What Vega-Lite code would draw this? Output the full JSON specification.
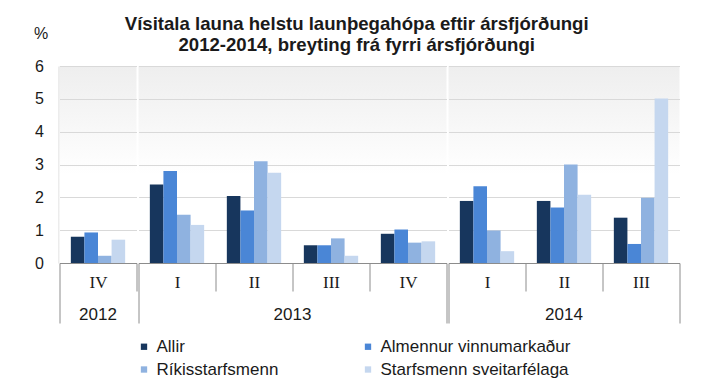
{
  "$schema": "https://vega.github.io/schema/vega-lite/v6.json",
  "background": "white",
  "padding": {"left": 32.5, "top": 15, "right": 30, "bottom": 0},
  "title": {
    "text": ["Vísitala launa helstu launþegahópa eftir ársfjórðungi", "2012-2014, breyting frá fyrri ársfjórðungi"],
    "font": "Liberation Sans",
    "fontSize": 18.6,
    "fontWeight": "bold",
    "color": "#1a1a1a",
    "anchor": "middle",
    "lineHeight": 21,
    "offset": -30
  },
  "data": {
    "values": [
      {"year": "2012", "quarter": "IV", "series": "Allir", "value": 0.80},
      {"year": "2012", "quarter": "IV", "series": "Almennur vinnumarkaður", "value": 0.93},
      {"year": "2012", "quarter": "IV", "series": "Ríkisstarfsmenn", "value": 0.22},
      {"year": "2012", "quarter": "IV", "series": "Starfsmenn sveitarfélaga", "value": 0.71},
      {"year": "2013", "quarter": "I", "series": "Allir", "value": 2.39},
      {"year": "2013", "quarter": "I", "series": "Almennur vinnumarkaður", "value": 2.80},
      {"year": "2013", "quarter": "I", "series": "Ríkisstarfsmenn", "value": 1.47},
      {"year": "2013", "quarter": "I", "series": "Starfsmenn sveitarfélaga", "value": 1.16},
      {"year": "2013", "quarter": "II", "series": "Allir", "value": 2.04},
      {"year": "2013", "quarter": "II", "series": "Almennur vinnumarkaður", "value": 1.60},
      {"year": "2013", "quarter": "II", "series": "Ríkisstarfsmenn", "value": 3.10},
      {"year": "2013", "quarter": "II", "series": "Starfsmenn sveitarfélaga", "value": 2.75},
      {"year": "2013", "quarter": "III", "series": "Allir", "value": 0.54},
      {"year": "2013", "quarter": "III", "series": "Almennur vinnumarkaður", "value": 0.54},
      {"year": "2013", "quarter": "III", "series": "Ríkisstarfsmenn", "value": 0.75},
      {"year": "2013", "quarter": "III", "series": "Starfsmenn sveitarfélaga", "value": 0.22},
      {"year": "2013", "quarter": "IV", "series": "Allir", "value": 0.89},
      {"year": "2013", "quarter": "IV", "series": "Almennur vinnumarkaður", "value": 1.02},
      {"year": "2013", "quarter": "IV", "series": "Ríkisstarfsmenn", "value": 0.62},
      {"year": "2013", "quarter": "IV", "series": "Starfsmenn sveitarfélaga", "value": 0.66},
      {"year": "2014", "quarter": "I", "series": "Allir", "value": 1.89},
      {"year": "2014", "quarter": "I", "series": "Almennur vinnumarkaður", "value": 2.34},
      {"year": "2014", "quarter": "I", "series": "Ríkisstarfsmenn", "value": 0.99},
      {"year": "2014", "quarter": "I", "series": "Starfsmenn sveitarfélaga", "value": 0.36},
      {"year": "2014", "quarter": "II", "series": "Allir", "value": 1.89},
      {"year": "2014", "quarter": "II", "series": "Almennur vinnumarkaður", "value": 1.69},
      {"year": "2014", "quarter": "II", "series": "Ríkisstarfsmenn", "value": 3.00},
      {"year": "2014", "quarter": "II", "series": "Starfsmenn sveitarfélaga", "value": 2.08},
      {"year": "2014", "quarter": "III", "series": "Allir", "value": 1.38},
      {"year": "2014", "quarter": "III", "series": "Almennur vinnumarkaður", "value": 0.58},
      {"year": "2014", "quarter": "III", "series": "Ríkisstarfsmenn", "value": 1.99},
      {"year": "2014", "quarter": "III", "series": "Starfsmenn sveitarfélaga", "value": 5.01}
    ]
  },
  "facet": {
    "column": {
      "field": "year",
      "type": "ordinal",
      "header": {
        "title": null,
        "labelOrient": "bottom",
        "labelFont": "Liberation Sans",
        "labelFontSize": 17,
        "labelColor": "#1a1a1a",
        "labelPadding": -17
      }
    }
  },
  "spacing": 0,
  "resolve": {"scale": {"x": "independent", "xOffset": "independent"}},
  "spec": {
    "width": {"step": 77, "for": "position"},
    "height": 197,
    "mark": {"type": "bar"},
    "encoding": {
      "x": {
        "field": "quarter",
        "type": "ordinal",
        "sort": ["I", "II", "III", "IV"],
        "scale": {"paddingInner": 0, "paddingOuter": 0},
        "axis": {
          "title": null,
          "labelAngle": 0,
          "labelFont": "Liberation Serif",
          "labelFontSize": 17,
          "labelColor": "#1a1a1a",
          "labelPadding": {"condition": {"test": "datum.index == -1 || datum.index == 1", "value": -49}, "value": -17},
          "tickBand": "extent",
          "tickColor": "#8c8c8c",
          "domainColor": "#8c8c8c",
          "tickSize": {"condition": {"test": "datum.index == -1 || datum.index == 1", "value": 60}, "value": 28}
        }
      },
      "xOffset": {
        "field": "series",
        "sort": ["Allir", "Almennur vinnumarkaður", "Ríkisstarfsmenn", "Starfsmenn sveitarfélaga"],
        "scale": {"paddingInner": 0, "paddingOuter": 0.835}
      },
      "y": {
        "field": "value",
        "type": "quantitative",
        "scale": {"domain": [0, 6], "nice": false},
        "axis": {
          "values": [0, 1, 2, 3, 4, 5, 6],
          "title": "%",
          "titleAngle": 0,
          "titleX": -18,
          "titleY": -33,
          "titleAlign": "center",
          "titleBaseline": "middle",
          "titleFont": "Liberation Sans",
          "titleFontSize": 16,
          "titleFontWeight": "normal",
          "titleColor": "#1a1a1a",
          "labelFont": "Liberation Sans",
          "labelFontSize": 16,
          "labelColor": "#1a1a1a",
          "labelPadding": 15,
          "ticks": false,
          "domainColor": "#d9d9d9",
          "gridColor": "#d9d9d9",
          "gridWidth": 1.2
        }
      },
      "color": {
        "field": "series",
        "type": "nominal",
        "sort": ["Allir", "Almennur vinnumarkaður", "Ríkisstarfsmenn", "Starfsmenn sveitarfélaga"],
        "scale": {
          "domain": ["Allir", "Almennur vinnumarkaður", "Ríkisstarfsmenn", "Starfsmenn sveitarfélaga"],
          "range": ["#17365d", "#4a86d6", "#8fb2e0", "#c5d7ef"]
        },
        "legend": {
          "title": null,
          "orient": "none",
          "legendX": 76,
          "legendY": 272,
          "direction": "horizontal",
          "columns": 2,
          "columnPadding": 81,
          "rowPadding": 5,
          "symbolType": "square",
          "symbolSize": 40,
          "symbolStrokeWidth": 0,
          "labelOffset": 4,
          "labelFont": "Liberation Sans",
          "labelFontSize": 17,
          "labelColor": "#1a1a1a",
          "labelLimit": 300
        }
      }
    }
  },
  "config": {
    "view": {
      "stroke": null,
      "fill": {
        "gradient": "linear",
        "x1": 0, "y1": 0, "x2": 0, "y2": 1,
        "stops": [
          {"offset": 0, "color": "#eeeeee"},
          {"offset": 0.55, "color": "#ffffff"},
          {"offset": 1, "color": "#ffffff"}
        ]
      }
    }
  }
}
